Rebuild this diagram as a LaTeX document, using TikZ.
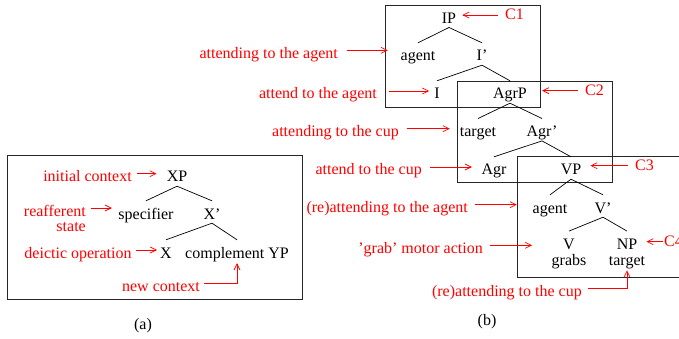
\documentclass[tikz,border=0pt]{standalone}
\usepackage{fontspec}
\setmainfont{Liberation Serif}
\usetikzlibrary{arrows.meta}
\begin{document}
\begin{tikzpicture}[x=1pt,y=-1pt,
  every node/.style={font=\fontsize{16}{19}\selectfont, inner sep=0pt, anchor=base},
  cat/.style={text height=18pt, text depth=4pt},
  lab/.style={text=red, text height=19pt, text depth=3pt},
  clab/.style={text=red, text height=13pt, text depth=3pt, anchor=base west},
  branch/.style={line width=0.7pt},
  frame/.style={draw=black!85, line width=0.8pt},
  arr/.style={draw=red, line width=0.7pt, -{Straight Barb[length=6pt,width=6pt]}},
  panelcap/.style={text=black}
]
\useasboundingbox (0,0) rectangle (679,339);
\clip (0,0) rectangle (679,339);

% ---------- frames ----------
\draw[frame] (7,155) rectangle (302,299);
\draw[frame] (385,5) rectangle (540,107);
\draw[frame] (457,81) rectangle (612,182);
\draw[frame] (517,156) rectangle (700,277);

% ---------- (a) generic X-bar schema ----------
\node[cat] (XP)   at (177,182) {XP};
\node[cat] (spec) at (146,219) {specifier};
\node[cat] (Xb)   at (212,219) {X'};
\node[cat] (X)    at (166,258) {X};
\node[cat] (comp) at (237,258) {complement YP};

\draw[branch] (XP.south) -- (spec.north);
\draw[branch] (XP.south) -- (Xb.north);
\draw[branch] (Xb.south) -- (X.north);
\draw[branch] (Xb.south) -- (comp.north);

\node[lab] (lInit)  at (87.5,181.7) {initial context};
\node[lab, anchor=base east] (lReaf)  at (86,216) {reafferent};
\node[lab, anchor=base east] (lState) at (86,231.7) {state};
\node[lab] (lDeic)  at (78,258) {deictic operation};
\node[lab] (lNew)   at (161,291.7) {new context};

\draw[arr, shorten <=5pt, shorten >=10pt] (lInit.east) -- (lInit.east -| XP.west);
\draw[arr, shorten <=5pt, shorten >=6.5pt] (lReaf.east) -- (lReaf.east -| spec.west);
\draw[arr, shorten <=4pt, shorten >=3pt] (lDeic.east) -- (lDeic.east -| X.west);
\draw[arr, shorten <=4pt, shorten >=1pt] (lNew.east) -- (lNew.east -| comp.south) -- (comp.south);

\node[panelcap] (capA) at (143,329) {(a)};

% ---------- (b) clause structure ----------
\node[cat] (IP)     at (449,23.3)  {IP};
\node[cat] (agentA) at (418,61)    {agent};
\node[cat] (Ib)     at (482,61)    {I'};
\node[cat] (I)      at (437,99)    {I};
\node[cat] (AgrP)   at (510,99)    {AgrP};
\node[cat] (tgtA)   at (478,136.7) {target};
\node[cat] (Agrb)   at (542,136.7) {Agr'};
\node[cat] (Agr)    at (494,175)   {Agr};
\node[cat] (VP)     at (571,175)   {VP};
\node[cat] (agentV) at (550,213)   {agent};
\node[cat] (Vb)     at (603,213)   {V'};
\node[cat] (V)      at (569,249.3) {V};
\node[cat] (NP)     at (627,249.3) {NP};
\node[cat] (grabs)  at (569,265.7) {grabs};
\node[cat] (tgtV)   at (627,265.7) {target};

\draw[branch] (IP.south) -- (agentA.north);
\draw[branch] (IP.south) -- (Ib.north);
\draw[branch] (Ib.south) -- (I.north);
\draw[branch] (Ib.south) -- (AgrP.north);
\draw[branch] (AgrP.south) -- (tgtA.north);
\draw[branch] (AgrP.south) -- (Agrb.north);
\draw[branch] (Agrb.south) -- (Agr.north);
\draw[branch] (Agrb.south) -- (VP.north);
\draw[branch] (VP.south) -- (agentV.north);
\draw[branch] (VP.south) -- (Vb.north);
\draw[branch] (Vb.south) -- (V.north);
\draw[branch] (Vb.south) -- (NP.north);

% attentional / motor operations
\node[lab, anchor=base east] (l1) at (338,58.3)  {attending to the agent};
\node[lab, anchor=base east] (l2) at (377,99)    {attend to the agent};
\node[lab, anchor=base east] (l3) at (399,136.7) {attending to the cup};
\node[lab, anchor=base east] (l4) at (422,175)   {attend to the cup};
\node[lab, anchor=base east] (l5) at (468,212.7) {(re)attending to the agent};
\node[lab, anchor=base east] (l6) at (483,253.3) {'grab' motor action};
\node[lab, anchor=base east] (l7) at (582,296)   {(re)attending to the cup};

\draw[arr, shorten <=9pt,  shorten >=12.7pt] (l1.east) -- (l1.east -| agentA.west);
\draw[arr, shorten <=12pt, shorten >=5pt]    (l2.east) -- (l2.east -| I.west);
\draw[arr, shorten <=8pt,  shorten >=10pt]   (l3.east) -- (l3.east -| tgtA.west);
\draw[arr, shorten <=8pt,  shorten >=9.6pt]  (l4.east) -- (l4.east -| Agr.west);
\draw[arr, shorten <=7pt,  shorten >=15.7pt] (l5.east) -- (l5.east -| agentV.west);
\draw[arr, shorten <=7pt,  shorten >=31pt]   (l6.east) -- (l6.east -| V.west);
\draw[arr, shorten <=6pt,  shorten >=0.5pt]  (l7.east) -- (l7.east -| tgtV.south) -- (tgtV.south);

% contexts
\node[clab] (C1) at (505,20)    {C1};
\node[clab] (C2) at (585,95.7)  {C2};
\node[clab] (C3) at (635,170.7) {C3};
\node[clab] (C4) at (664,246.7) {C4};

\draw[arr, shorten <=7pt, shorten >=6pt]  (C1.west) -- (C1.west -| IP.east);
\draw[arr, shorten <=7pt, shorten >=15pt] (C2.west) -- (C2.west -| AgrP.east);
\draw[arr, shorten <=7pt, shorten >=9pt]  (C3.west) -- (C3.west -| VP.east);
\draw[arr, shorten <=1pt, shorten >=9pt]  (C4.west) -- (C4.west -| NP.east);

\node[panelcap] (capB) at (487,325) {(b)};
\end{tikzpicture}
\end{document}
